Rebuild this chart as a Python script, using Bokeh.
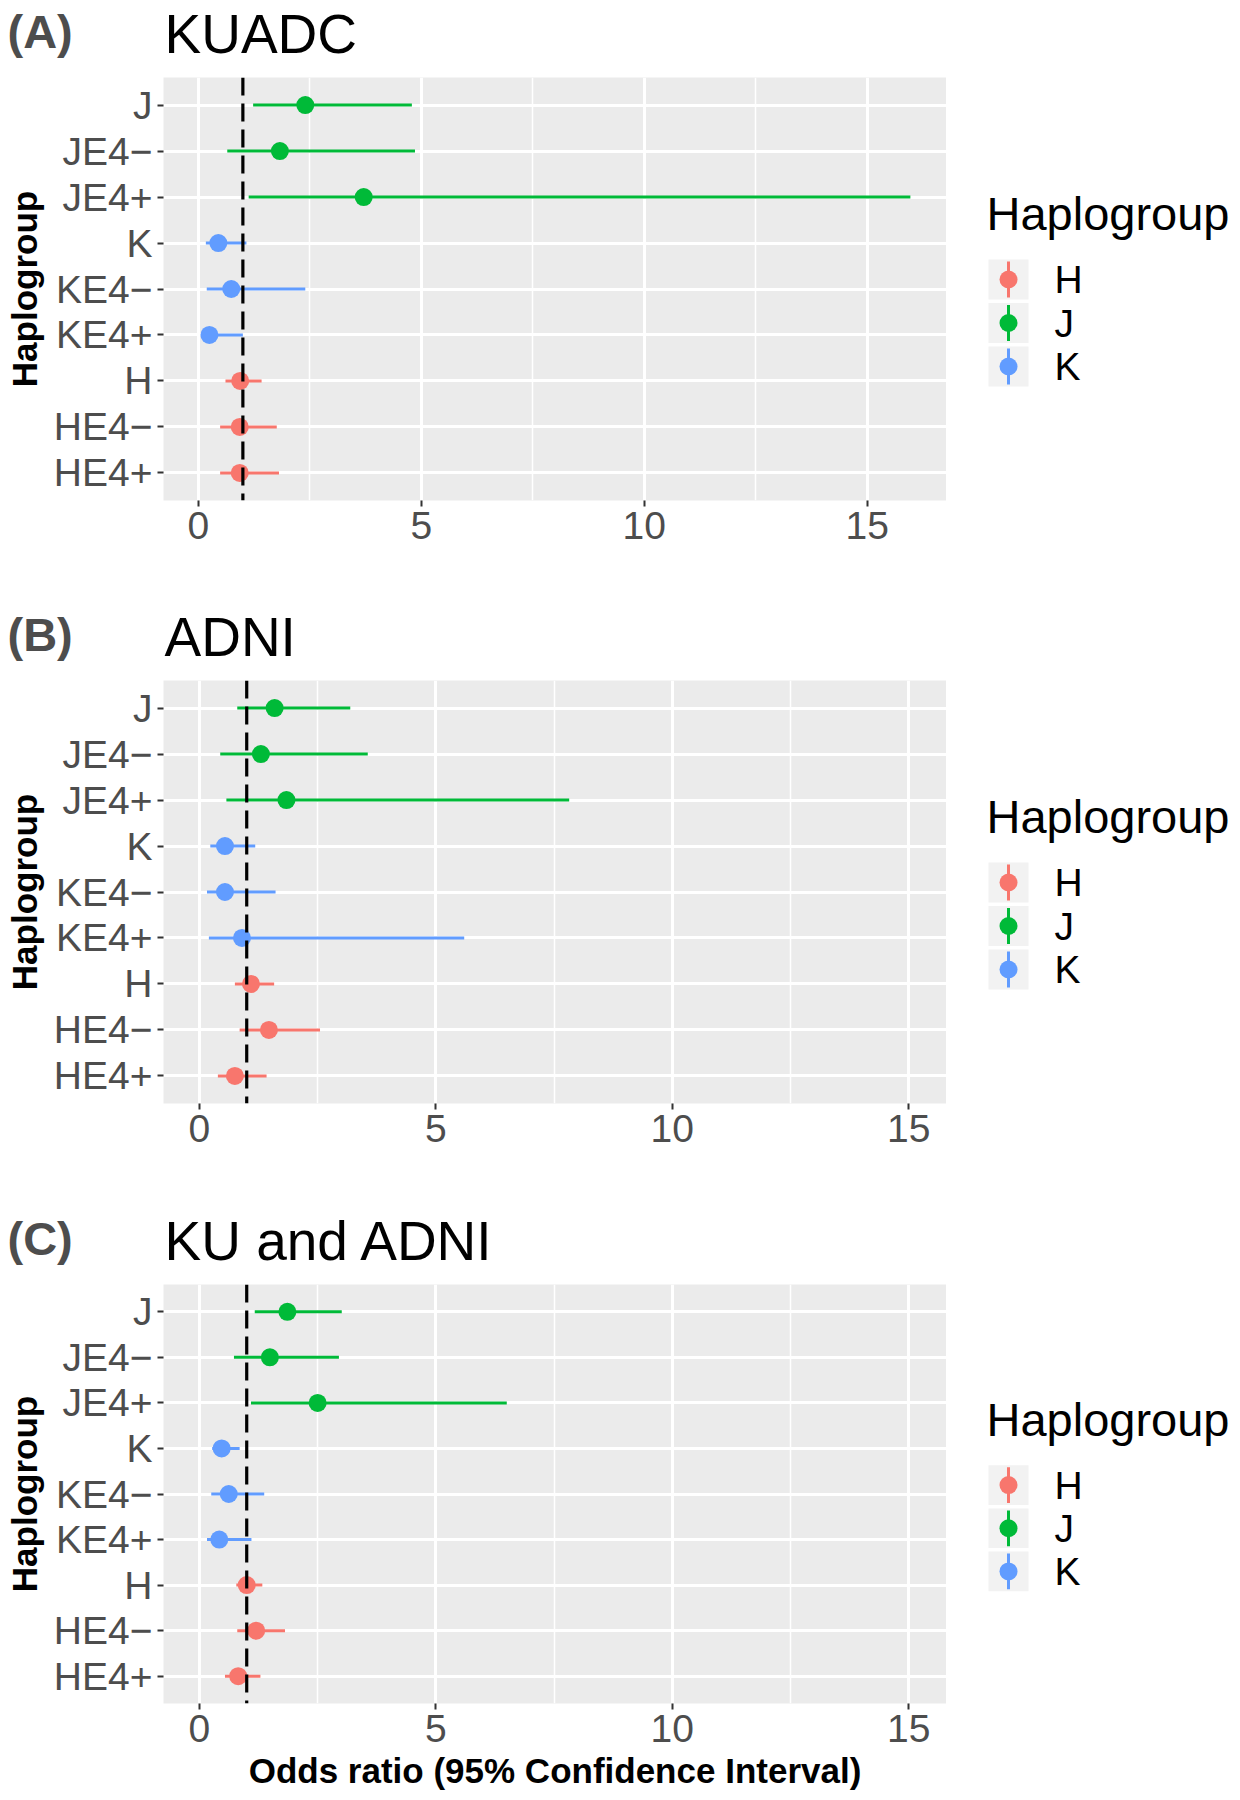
from bokeh.plotting import figure
from bokeh.models import Range1d, FactorRange, FixedTicker, Span, ColumnDataSource
from bokeh.layouts import column, row
from bokeh.embed import file_html
from bokeh.resources import INLINE
from bokeh.core.properties import value
from bokeh.transform import factor_cmap

# ---------------- data ----------------
categories = ["J", "JE4\u2212", "JE4+", "K", "KE4\u2212", "KE4+", "H", "HE4\u2212", "HE4+"]
groups = ["J", "J", "J", "K", "K", "K", "H", "H", "H"]
legend_groups = ["H", "J", "K"]
palette = ["#F8766D", "#00BA38", "#619CFF"]
x_ticks = [0, 5, 10, 15]
x_minor = [2.5, 7.5, 12.5]
panel_letters = ["(A)", "(B)", "(C)"]
panel_titles = ["KUADC", "ADNI", "KU and ADNI"]
x_title = "Odds ratio (95% Confidence Interval)"
y_title = "Haplogroup"
legend_title = "Haplogroup"

kuadc_or = [2.40, 1.83, 3.71, 0.45, 0.74, 0.25, 0.94, 0.93, 0.93]
kuadc_lo = [1.23, 0.65, 1.13, 0.17, 0.19, 0.15, 0.61, 0.49, 0.49]
kuadc_hi = [4.79, 4.86, 15.97, 1.08, 2.40, 1.00, 1.42, 1.76, 1.81]

adni_or = [1.59, 1.30, 1.84, 0.54, 0.54, 0.90, 1.09, 1.47, 0.75]
adni_lo = [0.80, 0.44, 0.57, 0.23, 0.16, 0.20, 0.75, 0.85, 0.39]
adni_hi = [3.19, 3.56, 7.82, 1.18, 1.61, 5.60, 1.58, 2.55, 1.42]

comb_or = [1.86, 1.49, 2.50, 0.47, 0.62, 0.42, 1.00, 1.20, 0.82]
comb_lo = [1.17, 0.73, 1.09, 0.27, 0.25, 0.16, 0.78, 0.80, 0.54]
comb_hi = [3.01, 2.95, 6.50, 0.85, 1.37, 1.10, 1.33, 1.81, 1.29]

FONT = "Liberation Sans"
LEFT = 163
FRAME_W = 783
MAIN_W = LEFT + FRAME_W
LEG_W = 290
TOTAL_W = MAIN_W + LEG_W
TOP = 10


def header_fig(letter, title, height):
    h = figure(width=TOTAL_W, height=height, title=None, x_range=Range1d(0, TOTAL_W),
               y_range=Range1d(height, 0), x_axis_type=None, y_axis_type=None,
               min_border_left=0, min_border_right=0, min_border_top=0, min_border_bottom=0,
               output_backend="svg", toolbar_location=None)
    h.outline_line_color = None
    h.background_fill_color = "white"
    h.border_fill_color = "white"
    frame_top = height + TOP
    h.text(x=[7], y=[frame_top - 46], text=[letter], text_font=value(FONT),
           text_font_size=value("47px"), text_font_style="bold", text_color="#4D4D4D",
           text_baseline="middle")
    h.text(x=[164], y=[frame_top - 44], text=[title], text_font=value(FONT),
           text_font_size=value("55px"), text_color="black", text_baseline="middle")
    return h


def main_fig(orv, lo, hi, xr, height, bottom, xlabel=None):
    src = ColumnDataSource(dict(cat=categories, grp=groups, orv=orv, lo=lo, hi=hi))
    yr = FactorRange(factors=categories[::-1], range_padding=0.2 / 9,
                     range_padding_units="percent")
    p = figure(width=MAIN_W, height=height, x_range=Range1d(*xr), y_range=yr,
               output_backend="svg", toolbar_location=None, title=None,
               min_border_left=LEFT, min_border_right=0,
               min_border_top=TOP, min_border_bottom=bottom)
    p.background_fill_color = "#EBEBEB"
    p.border_fill_color = "white"
    p.outline_line_color = None

    tk = FixedTicker(ticks=x_ticks, minor_ticks=x_minor)
    p.xaxis.ticker = tk
    p.xgrid.ticker = tk
    p.xgrid.grid_line_color = "white"
    p.xgrid.grid_line_width = 3
    p.xgrid.minor_grid_line_color = "white"
    p.xgrid.minor_grid_line_width = 1.5
    p.ygrid.grid_line_color = "white"
    p.ygrid.grid_line_width = 3

    cmap = factor_cmap("grp", palette, legend_groups)
    p.segment(x0="lo", y0="cat", x1="hi", y1="cat", source=src,
              line_color=cmap, line_width=3)
    p.scatter(x="orv", y="cat", source=src, size=18,
              fill_color=cmap, line_color=None)
    p.add_layout(Span(location=1, dimension="height", line_color="black",
                      line_width=3.2, line_dash="18 8"))

    for ax in (p.xaxis[0], p.yaxis[0]):
        ax.axis_line_color = None
        ax.major_tick_line_color = "#333333"
        ax.major_tick_line_width = 2
        ax.major_tick_out = 6
        ax.major_tick_in = 0
        ax.minor_tick_line_color = None
        ax.major_label_text_font = FONT
        ax.major_label_text_font_size = "39px"
        ax.major_label_text_color = "#4D4D4D"
        ax.axis_label_text_font = FONT
        ax.axis_label_text_font_style = "bold"
        ax.axis_label_text_font_size = "35px"
        ax.axis_label_text_color = "black"
    p.xaxis.major_label_standoff = 5
    p.yaxis.major_label_standoff = 5
    p.yaxis.axis_label = y_title
    p.yaxis.axis_label_standoff = 7
    if xlabel:
        p.xaxis.axis_label = xlabel
        p.xaxis.axis_label_standoff = 6
    return p


def legend_fig(height, bottom):
    frame_h = height - TOP - bottom
    lp = figure(width=LEG_W, height=height, title=None, x_range=Range1d(0, LEG_W),
                y_range=Range1d(frame_h, 0), x_axis_type=None, y_axis_type=None,
                min_border_left=0, min_border_right=0,
                min_border_top=TOP, min_border_bottom=bottom,
                output_backend="svg", toolbar_location=None)
    lp.outline_line_color = None
    lp.background_fill_color = "white"
    lp.border_fill_color = "white"
    ky = [202 + i * 43.5 for i in range(len(legend_groups))]
    lsrc = ColumnDataSource(dict(g=legend_groups, y=ky,
                                 y0=[v - 18 for v in ky], y1=[v + 18 for v in ky],
                                 c=palette))
    lp.rect(x=62, y="y", width=40, height=40, source=lsrc,
            fill_color="#F2F2F2", line_color=None)
    lp.segment(x0=62, y0="y0", x1=62, y1="y1", source=lsrc,
               line_color="c", line_width=3)
    lp.scatter(x=62, y="y", size=18, source=lsrc, fill_color="c", line_color=None)
    lp.text(x=108, y="y", text="g", source=lsrc, text_font=value(FONT),
            text_font_size=value("39px"), text_baseline="middle", text_color="black")
    lp.text(x=[40], y=[136], text=[legend_title], text_font=value(FONT),
            text_font_size=value("47px"), text_baseline="middle", text_color="black")
    return lp


# panel A: header 0-67, frame 77-500
hA = header_fig(panel_letters[0], panel_titles[0], 67)
pA = main_fig(kuadc_or, kuadc_lo, kuadc_hi, (-0.78, 16.78), 537, 104)
lA = legend_fig(537, 104)
# panel B: header 604-670, frame 680-1103
hB = header_fig(panel_letters[1], panel_titles[1], 66)
pB = main_fig(adni_or, adni_lo, adni_hi, (-0.76, 15.80), 539, 106)
lB = legend_fig(539, 106)
# panel C: header 1209-1274, frame 1284-1706
hC = header_fig(panel_letters[2], panel_titles[2], 65)
pC = main_fig(comb_or, comb_lo, comb_hi, (-0.76, 15.80), 518, 86, xlabel=x_title)
lC = legend_fig(518, 86)

layout = column(hA, row(pA, lA), hB, row(pB, lB), hC, row(pC, lC))
open("out.html", "w").write(file_html(layout, INLINE))
